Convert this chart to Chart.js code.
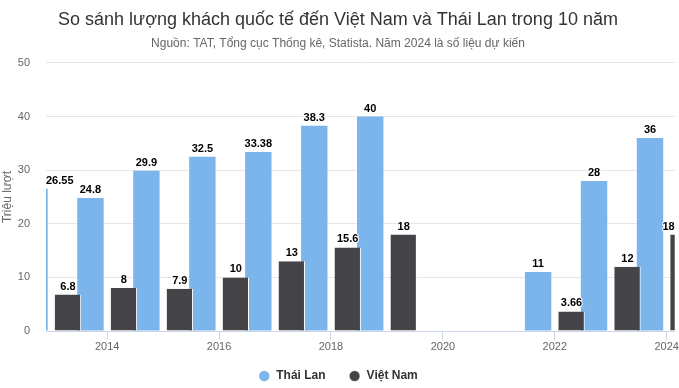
<!DOCTYPE html>
<html>
<head>
<meta charset="utf-8">
<script src="https://cdn.jsdelivr.net/npm/chart.js@4/dist/chart.umd.min.js"></script>
<style>
  html, body { margin: 0; padding: 0; background: #fff; }
  #wrap { width: 679px; height: 388px; position: relative; }
</style>
</head>
<body>
<div id="wrap"><canvas id="tourChart"></canvas></div>
<script>
// Data (triệu lượt khách)
const years = [2013, 2014, 2015, 2016, 2017, 2018, 2019, 2020, 2021, 2022, 2023, 2024];
const thaiLan = [26.55, 24.8, 29.9, 32.5, 33.38, 38.3, 40, null, null, 11, 28, 36];
const vietNam = [6.8, 8, 7.9, 10, 13, 15.6, 18, null, null, 3.66, 12, 18];
const yearTicks = [2014, 2016, 2018, 2020, 2022, 2024];
const valueTicks = [0, 10, 20, 30, 40, 50];

const FONT = '"Liberation Sans", Arial, sans-serif';

const toPoints = vals => years.map((y, i) => ({ x: y, y: vals[i] }));

// draw Thai first, Vietnam on top (like the original), then the value labels
const barLabels = {
  id: 'barLabels',
  afterLayout(chart) {
    // legend sits a bit higher than chart.js puts it with this item spacing
    chart.legend.top -= 6;
    chart.legend.bottom -= 6;
  },
  beforeDatasetsDraw(chart) {
    const ctx = chart.ctx;
    const a = chart.chartArea;
    ctx.save();
    ctx.beginPath();
    ctx.rect(a.left, a.top, a.right - a.left, a.bottom - a.top);
    ctx.clip();
    chart.data.datasets.forEach((ds, i) => chart.getDatasetMeta(i).controller.draw());
    ctx.restore();

    ctx.save();
    ctx.font = 'bold 11px ' + FONT;
    ctx.textBaseline = 'alphabetic';
    ctx.textAlign = 'center';
    ctx.lineJoin = 'round';
    chart.data.datasets.forEach((ds, i) => {
      chart.getDatasetMeta(i).data.forEach((bar, j) => {
        const v = ds.data[j].y;
        if (v === null) return;
        const txt = String(v);
        const w = ctx.measureText(txt).width;
        let x = bar.x;
        if (x - w / 2 < a.left) x = a.left + w / 2;
        if (x + w / 2 > a.right) x = a.right - w / 2;
        const y = bar.y - 5;
        ctx.strokeStyle = '#fff';
        ctx.lineWidth = 2;
        ctx.strokeText(txt, x, y);
        ctx.fillStyle = '#000';
        ctx.fillText(txt, x, y);
      });
    });
    ctx.restore();
    return false;
  }
};

new Chart(document.getElementById('tourChart'), {
  type: 'bar',
  data: {
    datasets: [
      {
        label: 'Thái Lan',
        data: toPoints(thaiLan),
        backgroundColor: '#7cb5ec',
        borderWidth: 0
      },
      {
        label: 'Việt Nam',
        data: toPoints(vietNam),
        backgroundColor: '#434348',
        borderColor: '#fff',
        borderWidth: { left: 0, right: 1, top: 0, bottom: 0 }
      }
    ]
  },
  options: {
    responsive: true,
    maintainAspectRatio: false,
    animation: false,
    categoryPercentage: 1.195,
    barPercentage: 0.79,
    layout: { padding: { left: 0, right: 3, top: 0, bottom: -10 } },
    plugins: {
      title: {
        display: true,
        text: 'So sánh lượng khách quốc tế đến Việt Nam và Thái Lan trong 10 năm',
        color: '#333',
        font: { family: FONT, size: 18, weight: 'normal' },
        padding: { top: 9, bottom: 5 }
      },
      subtitle: {
        display: true,
        text: 'Nguồn: TAT, Tổng cục Thống kê, Statista. Năm 2024 là số liệu dự kiến',
        color: '#666',
        font: { family: FONT, size: 12 },
        padding: { top: 1, bottom: 12 }
      },
      legend: {
        position: 'bottom',
        labels: {
          usePointStyle: true,
          pointStyle: 'circle',
          boxWidth: 13,
          boxHeight: 7.4,
          padding: 23,
          color: '#333',
          font: { family: FONT, size: 12, weight: 'bold' }
        }
      },
      tooltip: { enabled: false }
    },
    scales: {
      x: {
        type: 'linear',
        offset: false,
        min: 2012.907,
        max: 2024.143,
        afterBuildTicks: s => { s.ticks = yearTicks.map(v => ({ value: v })); },
        afterFit: s => { s.height = 22; },
        grid: { offset: false, drawOnChartArea: false, drawTicks: true, tickLength: 9, color: '#ccd6eb' },
        border: { color: '#ccd6eb' },
        ticks: {
          padding: 0,
          color: '#666',
          font: { family: FONT, size: 11 },
          callback: v => String(v),
          maxRotation: 0,
          autoSkip: false
        }
      },
      y: {
        min: 0,
        max: 50,
        afterBuildTicks: s => { s.ticks = valueTicks.map(v => ({ value: v })); },
        afterFit: s => { s.width = 46; },
        grid: { color: '#e6e6e6', drawTicks: false },
        border: { display: false },
        ticks: {
          padding: 16,
          color: '#666',
          font: { family: FONT, size: 11 }
        },
        title: {
          display: true,
          text: 'Triệu lượt',
          color: '#666',
          font: { family: FONT, size: 12 },
          padding: { top: 0, bottom: 0 }
        }
      }
    }
  },
  plugins: [barLabels]
});
</script>
</body>
</html>
